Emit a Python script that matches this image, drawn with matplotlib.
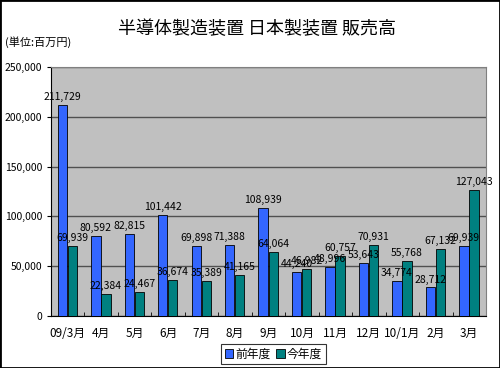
import numpy as np
import matplotlib.pyplot as plt
from matplotlib.patches import Rectangle

plt.rcParams['font.family'] = ['Noto Sans CJK JP', 'DejaVu Sans']

# data
months = ['09/3月', '4月', '5月', '6月', '7月', '8月', '9月', '10月', '11月', '12月', '10/1月', '2月', '3月']
prev_year = [211729, 80592, 82815, 101442, 69898, 71388, 108939, 44240, 48996, 53643, 34774, 28712, 69939]
this_year = [69939, 22384, 24467, 36674, 35389, 41165, 64064, 46982, 60757, 70931, 55768, 67132, 127043]
yticks = [0, 50000, 100000, 150000, 200000, 250000]

fig = plt.figure(figsize=(5, 3.68), dpi=100)
fig.patches.append(Rectangle((0, 0), 1, 1, transform=fig.transFigure,
                             fill=False, edgecolor='black', linewidth=2))
ax = fig.add_axes([0.102, 0.141, 0.87, 0.677])
ax.set_facecolor('#c0c0c0')

x = np.arange(len(months))
w = 0.28
ax.bar(x - 0.16, prev_year, w, color='#3366ff', edgecolor='black', linewidth=0.6, label='前年度', zorder=3)
ax.bar(x + 0.14, this_year, w, color='#008080', edgecolor='black', linewidth=0.6, label='今年度', zorder=3)

# value labels just above each bar
for xi, v in zip(x - 0.16, prev_year):
    ax.text(xi, v + 3000, f'{v:,}', ha='center', va='bottom', fontsize=7.5, zorder=4)
for xi, v in zip(x + 0.14, this_year):
    ax.text(xi, v + 3000, f'{v:,}', ha='center', va='bottom', fontsize=7.5, zorder=4)

ax.set_xlim(-0.5, len(months) - 0.5)
ax.set_ylim(0, 250000)
ax.set_yticks(yticks)
ax.set_yticklabels([f'{v:,}' for v in yticks], fontsize=7.5)
ax.yaxis.grid(True, color='#505050', linewidth=1, zorder=1)
ax.set_xticks(x)
ax.set_xticklabels(months, fontsize=8.5)
ax.set_xticks(np.arange(-0.5, len(months), 1), minor=True)
ax.tick_params(axis='x', which='major', length=0, pad=8)
ax.tick_params(axis='x', which='minor', length=3, direction='in')
ax.tick_params(axis='y', length=3)
for s in ['top', 'right']:
    ax.spines[s].set_color('#808080')
ax.spines['left'].set_color('black')
ax.spines['bottom'].set_color('black')

fig.text(0.514, 0.922, '半導体製造装置 日本製装置 販売高', ha='center', va='center', fontsize=13)
fig.text(0.01, 0.885, '(単位:百万円)', ha='left', va='center', fontsize=8)

leg = fig.legend(loc='center', bbox_to_anchor=(0.547, 0.038), ncol=2, fontsize=8.5,
                 frameon=True, fancybox=False, edgecolor='black', handlelength=0.7,
                 handleheight=0.7, handletextpad=0.2, columnspacing=0.5, borderpad=0.3)
leg.get_frame().set_linewidth(0.8)

fig.savefig('out.png', dpi=100)
